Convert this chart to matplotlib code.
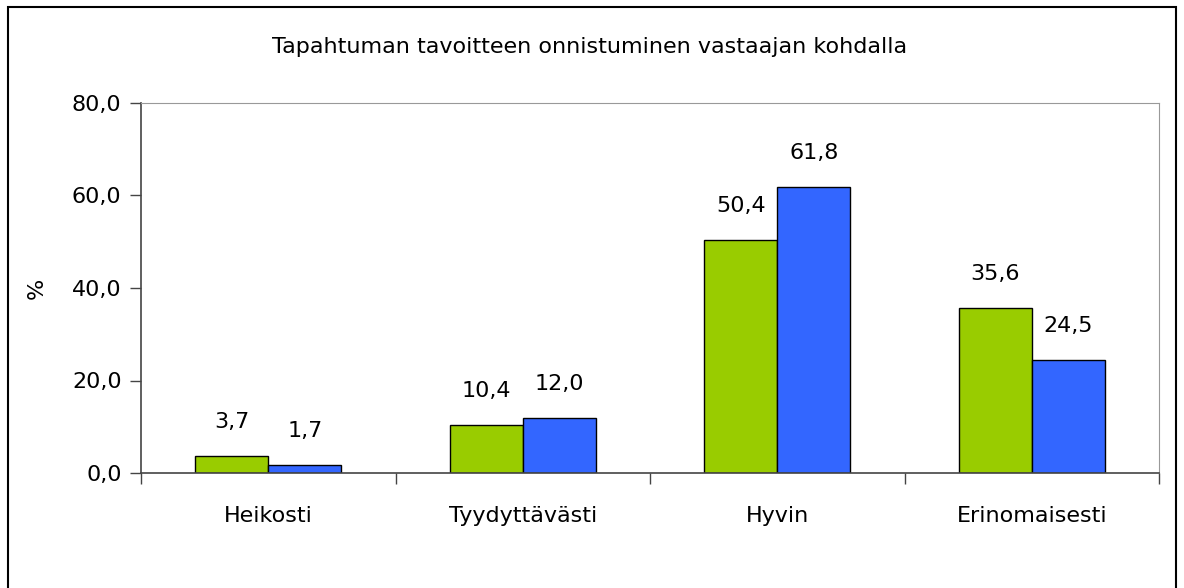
import numpy as np
import matplotlib.pyplot as plt
from matplotlib.patches import Rectangle

categories = ['Heikosti', 'Tyydyttävästi', 'Hyvin', 'Erinomaisesti']
series_a = [3.7, 10.4, 50.4, 35.6]
series_b = [1.7, 12.0, 61.8, 24.5]
title = 'Tapahtuman tavoitteen onnistuminen vastaajan kohdalla'

green = '#99CC00'
blue = '#3366FF'
fs = 16

def fmt(v):
    return f'{v:.1f}'.replace('.', ',')

fig = plt.figure(figsize=(11.84, 5.88), dpi=100)
ax = fig.add_axes([141 / 1184, 115 / 588, 1018 / 1184, 370 / 588])

# outer chart border (bottom runs off the picture)
fig.patches.append(Rectangle((8 / 1184, -0.05), 1168 / 1184, (588 - 7) / 588 + 0.05,
                             transform=fig.transFigure, fill=False,
                             edgecolor='black', linewidth=1.5))

x = np.arange(len(categories))
w = 0.287
ax.bar(x - w / 2, series_a, w, color=green, edgecolor='black', linewidth=1)
ax.bar(x + w / 2, series_b, w, color=blue, edgecolor='black', linewidth=1)

for xi, a, b in zip(x, series_a, series_b):
    ax.annotate(fmt(a), (xi - w / 2, a), xytext=(0, 28), textcoords='offset pixels',
                ha='center', va='baseline', fontsize=fs)
    ax.annotate(fmt(b), (xi + w / 2, b), xytext=(0, 28), textcoords='offset pixels',
                ha='center', va='baseline', fontsize=fs)

ax.set_xlim(-0.5, len(categories) - 0.5)
ax.set_ylim(0, 80)
ax.set_yticks(np.arange(0, 81, 20))
ax.set_yticklabels([fmt(v) for v in np.arange(0, 81, 20)], fontsize=fs)
ax.set_xticks(x)
ax.set_xticklabels(categories, fontsize=fs)
ax.tick_params(axis='x', length=0, pad=24)
ax.set_xticks(np.arange(-0.5, len(categories)), minor=True)
ax.tick_params(axis='x', which='minor', length=8, width=1, color='#444444')
ax.tick_params(axis='y', length=8, width=1, color='#444444', pad=6)

for s in ['top', 'right']:
    ax.spines[s].set_color('#999999')
for s in ['left', 'bottom']:
    ax.spines[s].set_color('#444444')
    ax.spines[s].set_linewidth(1.2)

ax.set_ylabel('%', fontsize=fs, labelpad=18)
fig.text(590 / 1184, 1 - 47 / 588, title, ha='center', va='center', fontsize=fs)

fig.savefig('out.png', dpi=100)
